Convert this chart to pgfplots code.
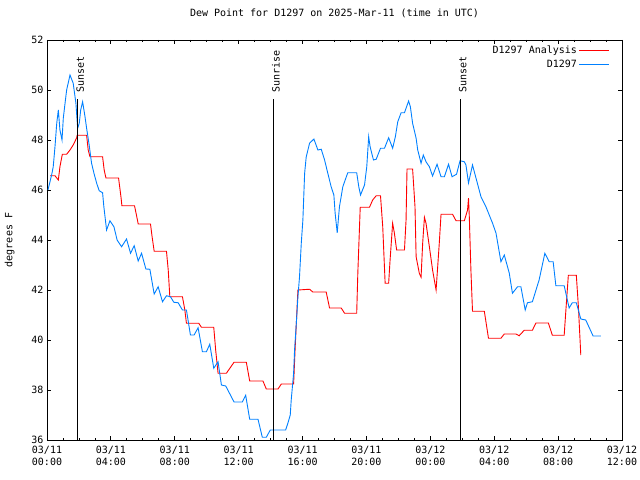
\documentclass[border=0pt]{standalone}
\usepackage{fontspec}
\setmainfont{DejaVu Sans Mono}
\usepackage{pgfplots}
\pgfplotsset{compat=1.18}
\definecolor{gred}{RGB}{255,0,0}
\definecolor{gblue}{RGB}{0,128,255}
\begin{document}
\fontsize{10bp}{12bp}\selectfont
\begin{tikzpicture}
\begin{axis}[
  scale only axis,
  width=575bp, height=400bp,
  xmin=0, xmax=36, ymin=36, ymax=52,
  xtick={0,4,...,36},
  minor x tick num=3,
  xticklabels={{03/11\\00:00},{03/11\\04:00},{03/11\\08:00},{03/11\\12:00},{03/11\\16:00},{03/11\\20:00},{03/12\\00:00},{03/12\\04:00},{03/12\\08:00},{03/12\\12:00}},
  xticklabel style={align=center, font=\fontsize{10bp}{12bp}\selectfont, yshift=-3bp},
  ytick={36,38,...,52},
  yticklabel style={font=\fontsize{10bp}{12bp}\selectfont},
  /pgf/number format/assume math mode=true,
  tick align=inside,
  major tick length=4bp,
  minor tick length=2bp,
  tick style={black, line width=0.8bp},
  axis line style={black, line width=0.8bp},
  ylabel={degrees F},
  ylabel style={at={(axis description cs:-0.065,0.5)}, anchor=center, font=\fontsize{10bp}{12bp}\selectfont},
  title={Dew Point for D1297 on 2025-Mar-11 (time in UTC)},
  title style={at={(axis description cs:0.5,1)}, anchor=center, yshift=21bp, font=\fontsize{10bp}{12bp}\selectfont},
  legend plot pos=right,
  legend cell align=right,
  legend style={at={(axis description cs:1,1)}, anchor=north east, xshift=-9bp, yshift=-2bp, draw=none, fill=none, font=\fontsize{10bp}{12bp}\selectfont, row sep=1bp},
  legend image code/.code={\draw[#1] (0bp,0bp) -- (30bp,0bp);},
]
\addplot[gred, line width=0.9bp] coordinates {
(0.19,46.57) (0.5,46.57) (0.71,46.4) (0.81,46.93) (0.96,47.43) (1.23,47.43) (1.44,47.6) (1.64,47.8) (1.86,48.09) (1.89,48.19) (2.48,48.19) (2.58,47.6) (2.69,47.33) (3.48,47.33) (3.58,46.8) (3.69,46.48) (4.48,46.48) (4.63,45.73) (4.69,45.37) (5.48,45.37) (5.64,44.87) (5.71,44.64) (6.48,44.64) (6.58,44.13) (6.71,43.55) (7.48,43.55) (7.59,42.8) (7.69,41.73) (8.48,41.73) (8.63,41.2) (8.73,40.67) (9.5,40.67) (9.67,40.51) (10.44,40.51) (10.56,39.6) (10.71,38.67) (11.23,38.67) (11.71,39.11) (12.48,39.11) (12.69,38.36) (13.52,38.36) (13.73,38.04) (14.46,38.04) (14.67,38.24) (15.44,38.24) (15.54,39.73) (15.71,42.0) (16.44,42.03) (16.64,41.92) (17.48,41.92) (17.69,41.28) (18.42,41.28) (18.63,41.07) (19.39,41.07) (19.46,42.67) (19.61,45.31) (20.19,45.31) (20.39,45.6) (20.61,45.77) (20.88,45.77) (21.02,44.53) (21.17,42.27) (21.39,42.27) (21.48,43.2) (21.64,44.67) (21.75,44.27) (21.89,43.6) (22.38,43.6) (22.48,44.8) (22.54,46.84) (22.89,46.84) (23.04,45.33) (23.11,43.33) (23.31,42.67) (23.42,42.51) (23.52,43.87) (23.63,44.91) (23.73,44.67) (23.94,43.73) (24.14,42.8) (24.36,42.0) (24.46,42.93) (24.56,43.87) (24.67,45.03) (25.39,45.03) (25.61,44.77) (26.13,44.77) (26.33,45.2) (26.39,45.67) (26.44,44.93) (26.54,42.8) (26.64,41.15) (27.38,41.15) (27.64,40.07) (28.42,40.07) (28.63,40.24) (29.36,40.24) (29.56,40.17) (29.88,40.39) (30.39,40.39) (30.61,40.68) (31.39,40.68) (31.64,40.19) (32.38,40.19) (32.48,41.13) (32.64,42.59) (33.14,42.59) (33.27,41.33) (33.42,39.4)
};
\addlegendentry{D1297 Analysis}
\addplot[gblue, line width=0.9bp] coordinates {
(0.06,46.0) (0.29,46.6) (0.39,46.93) (0.5,47.73) (0.61,48.67) (0.71,49.2) (0.81,48.4) (0.94,48.0) (1.02,48.87) (1.13,49.47) (1.23,50.0) (1.44,50.6) (1.64,50.27) (1.81,49.47) (1.92,48.47) (2.02,48.67) (2.11,49.2) (2.23,49.53) (2.38,48.93) (2.48,48.47) (2.64,47.8) (2.79,47.07) (2.94,46.67) (3.11,46.27) (3.27,45.97) (3.48,45.89) (3.56,45.33) (3.73,44.4) (3.94,44.77) (4.19,44.53) (4.39,44.0) (4.67,43.73) (4.98,44.04) (5.23,43.47) (5.46,43.77) (5.71,43.16) (5.92,43.47) (6.19,42.84) (6.44,42.83) (6.71,41.84) (6.96,42.13) (7.23,41.53) (7.48,41.77) (7.73,41.73) (7.94,41.51) (8.21,41.49) (8.48,41.2) (8.73,41.2) (8.98,40.2) (9.21,40.2) (9.46,40.49) (9.73,39.53) (9.98,39.53) (10.19,39.83) (10.44,38.87) (10.71,39.13) (10.92,38.2) (11.19,38.16) (11.71,37.52) (12.23,37.52) (12.44,37.79) (12.69,36.83) (13.21,36.83) (13.48,36.11) (13.73,36.11) (13.98,36.4) (14.94,36.4) (15.08,36.67) (15.23,37.0) (15.29,37.6) (15.44,38.67) (15.5,39.6) (15.61,40.67) (15.71,41.73) (15.81,42.53) (15.92,43.87) (16.02,44.8) (16.13,46.67) (16.23,47.33) (16.44,47.87) (16.71,48.04) (16.96,47.6) (17.17,47.63) (17.38,47.2) (17.58,46.67) (17.79,46.13) (17.96,45.8) (18.04,45.07) (18.17,44.29) (18.31,45.33) (18.52,46.13) (18.83,46.69) (19.39,46.69) (19.52,46.13) (19.63,45.8) (19.88,46.2) (20.02,46.93) (20.14,48.13) (20.23,47.73) (20.44,47.2) (20.61,47.23) (20.88,47.67) (21.13,47.67) (21.39,48.09) (21.64,47.67) (21.81,48.13) (21.96,48.73) (22.17,49.09) (22.38,49.09) (22.64,49.56) (22.75,49.33) (22.89,48.67) (23.11,48.07) (23.21,47.6) (23.42,47.07) (23.56,47.4) (23.73,47.13) (23.94,46.93) (24.14,46.56) (24.42,47.03) (24.67,46.53) (24.88,46.53) (25.14,47.03) (25.36,46.53) (25.64,46.63) (25.86,47.17) (26.13,47.13) (26.23,47.0) (26.39,46.28) (26.64,47.0) (27.17,45.73) (27.48,45.33) (27.89,44.68) (28.11,44.28) (28.42,43.13) (28.63,43.4) (28.94,42.68) (29.14,41.87) (29.46,42.13) (29.67,42.13) (29.94,41.2) (30.08,41.49) (30.39,41.53) (30.81,42.4) (31.17,43.47) (31.44,43.13) (31.69,43.13) (31.86,42.17) (32.38,42.17) (32.69,41.28) (32.89,41.49) (33.14,41.49) (33.42,40.84) (33.73,40.8) (34.19,40.16) (34.67,40.16)
};
\addlegendentry{D1297}
\addplot[black, line width=1bp, forget plot] coordinates {(1.94,36) (1.94,49.63)}
  node[pos=1, rotate=90, anchor=north west, inner sep=0pt, yshift=2bp, xshift=6bp, font=\fontsize{10bp}{12bp}\selectfont] {Sunset};
\addplot[black, line width=1bp, forget plot] coordinates {(14.19,36) (14.19,49.63)}
  node[pos=1, rotate=90, anchor=north west, inner sep=0pt, yshift=2bp, xshift=6bp, font=\fontsize{10bp}{12bp}\selectfont] {Sunrise};
\addplot[black, line width=1bp, forget plot] coordinates {(25.89,36) (25.89,49.63)}
  node[pos=1, rotate=90, anchor=north west, inner sep=0pt, yshift=2bp, xshift=6bp, font=\fontsize{10bp}{12bp}\selectfont] {Sunset};
\end{axis}
\pgfresetboundingbox
\path (-47bp,-40bp) rectangle (593bp,440bp);
\end{tikzpicture}
\end{document}
